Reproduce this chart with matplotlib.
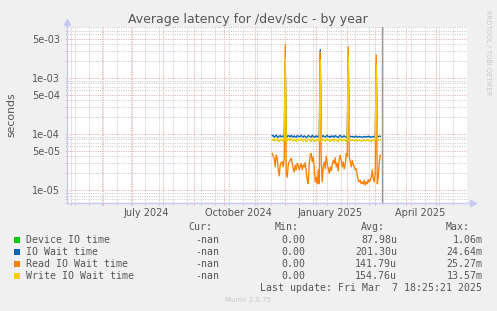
import pandas as pd
import matplotlib
matplotlib.use('Agg')
import matplotlib.pyplot as plt
from matplotlib.patches import Rectangle
from matplotlib.ticker import FixedLocator, NullFormatter, FuncFormatter
import matplotlib.transforms as mtransforms

W, H = 497, 311

# daily samples from this day on, values in microseconds
first_day = '2024-11-18'
now = pd.Timestamp('2025-03-07 18:25:21')

device_us = [79, 77, 81, 75, 78, 82, 76, 73, 80, 78, 79, 75, 77, 1000, 71, 76, 81, 79, 77, 82,
             78, 75, 80, 77, 74, 81, 79, 76, 78, 82, 77, 74, 80, 78, 72, 76, 81, 79, 77, 74,
             82, 78, 73, 76, 80, 75, 79, 74, 1060, 70, 77, 81, 77, 74, 79, 82, 76, 78, 73, 80,
             77, 79, 75, 81, 78, 76, 72, 79, 82, 77, 75, 78, 80, 76, 73, 77, 1000, 73, 79, 77,
             76, 78, 75, 77, 79, 74, 76, 78, 75, 77, 74, 76, 78, 75, 77, 76, 79, 75, 77, 74,
             76, 78, 75, 77, 900, 74, 77, 79, 78]
iowait_us = [93, 95, 88, 91, 96, 90, 87, 92, 94, 89, 91, 93, 88, 2000, 86, 90, 94, 92, 89, 95,
             91, 88, 93, 90, 87, 94, 92, 89, 91, 95, 90, 88, 93, 91, 86, 89, 94, 92, 90, 88,
             95, 91, 87, 90, 93, 89, 92, 88, 3200, 85, 91, 94, 90, 88, 92, 95, 89, 91, 87, 93,
             90, 92, 88, 94, 91, 89, 86, 92, 95, 90, 88, 91, 93, 89, 87, 90, 2400, 88, 92, 90,
             89, 91, 88, 90, 92, 87, 89, 91, 88, 90, 87, 89, 91, 88, 90, 89, 92, 88, 90, 87,
             89, 91, 88, 90, 1800, 87, 90, 92, 91]
read_us = [45, 40, 37, 26, 42, 37, 23, 18, 28, 31, 32, 26, 37, 3900, 20, 17, 28, 32, 34, 37,
           30, 24, 21, 28, 23, 30, 28, 23, 26, 30, 23, 28, 26, 31, 21, 15, 13, 30, 42, 45,
           32, 39, 26, 14, 17, 13, 23, 13, 2900, 30, 14, 26, 32, 24, 40, 30, 24, 20, 26, 22,
           28, 34, 30, 38, 26, 30, 22, 36, 42, 34, 26, 32, 24, 28, 45, 40, 3600, 39, 32, 26,
           34, 28, 26, 23, 24, 18.5, 15, 14, 15, 13, 14, 12.8, 15, 12.3, 14, 13, 15.5, 14, 15, 17,
           23, 16, 14, 20, 2600, 13, 17, 30, 42]
write_us = [80, 78, 82, 76, 79, 83, 77, 74, 81, 79, 80, 76, 78, 2300, 72, 77, 82, 80, 78, 83,
            79, 76, 81, 78, 75, 82, 80, 77, 79, 83, 78, 75, 81, 79, 73, 77, 82, 80, 78, 75,
            83, 79, 74, 77, 81, 76, 80, 75, 2100, 71, 78, 82, 78, 75, 80, 83, 77, 79, 74, 81,
            78, 80, 76, 82, 79, 77, 73, 80, 83, 78, 76, 79, 81, 77, 74, 78, 2500, 74, 80, 78,
            77, 79, 76, 78, 80, 75, 77, 79, 76, 78, 75, 77, 79, 76, 78, 77, 80, 76, 78, 75,
            77, 79, 76, 78, 1700, 75, 78, 80, 79]

names = ['Device IO time', 'IO Wait time', 'Read IO Wait time', 'Write IO Wait time']
colors = ['#00CC00', '#0066B3', '#FF8000', '#FFCC00']
cur = ['-nan', '-nan', '-nan', '-nan']
mins = ['0.00', '0.00', '0.00', '0.00']
avgs = ['87.98u', '201.30u', '141.79u', '154.76u']
maxs = ['1.06m', '24.64m', '25.27m', '13.57m']

month_labels = ['July 2024', 'October 2024', 'January 2025', 'April 2025']
month_label_days = ['2024-07-15', '2024-10-15', '2025-01-15', '2025-04-15']
y_major = [1e-5, 5e-5, 1e-4, 5e-4, 1e-3, 5e-3]

days = pd.date_range(first_day, periods=len(read_us), freq='D')

fig = plt.figure(figsize=(W / 100, H / 100), dpi=100, facecolor='#F0F0F0')
ax = fig.add_axes([67 / W, 1 - 203 / H, 400 / W, 176 / H], facecolor='white')

x0 = now - pd.Timedelta(days=315)
x1 = now + pd.Timedelta(days=85)
ax.set_xlim(x0, x1)
ax.set_yscale('log')
ax.set_ylim(5.9e-6, 8.1e-3)

# grid
grey = '#cdcdcd'
red = '#eeb0b0'
dots = (0, (1.2, 1.2))
ax.xaxis.set_major_locator(FixedLocator(matplotlib.dates.date2num(
    pd.date_range('2024-05-01', '2025-06-01', freq='MS'))))
ax.xaxis.set_minor_locator(FixedLocator(matplotlib.dates.date2num(
    pd.date_range('2024-05-05', '2025-06-01', freq='14D'))))
ax.xaxis.set_major_formatter(NullFormatter())
ax.xaxis.set_minor_formatter(NullFormatter())

minor_y = [m * 10.0 ** e for e in range(-6, -2) for m in (2, 3, 4, 6, 7, 8, 9)]
ax.yaxis.set_major_locator(FixedLocator(y_major))
ax.yaxis.set_minor_locator(FixedLocator(minor_y))
ax.yaxis.set_major_formatter(FuncFormatter(lambda v, p: f'{v:.0e}'))
ax.yaxis.set_minor_formatter(NullFormatter())

ax.grid(which='minor', color=grey, linestyle=dots, lw=0.7)
ax.grid(which='major', color=red, linestyle=dots, lw=0.7)
ax.set_axisbelow(True)
ax.tick_params(which='major', length=1.5, width=0.7, color=red, labelsize=7,
               labelcolor='#555555')
ax.tick_params(which='minor', length=1.5, width=0.7, color=grey)
ax.tick_params(axis='y', pad=3.6)

for s in ax.spines.values():
    s.set_visible(False)

# series (device time sits under the write line)
widths = [0.5, 0.95, 0.95, 0.95]
for vals, c, lw in zip([device_us, iowait_us, read_us, write_us], colors, widths):
    ax.plot(days, [v * 1e-6 for v in vals], color=c, lw=lw, zorder=3)

ax.axvline(now, color='#999999', lw=1.0, zorder=4)

# axis lines with arrows
axc = '#c8c8f4'
ax.plot([0, 0], [0, 1.02], transform=ax.transAxes, color=axc, lw=1, clip_on=False, zorder=5)
ax.plot([0, 1.012], [0, 0], transform=ax.transAxes, color=axc, lw=1, clip_on=False, zorder=5)
ax.plot([0], [1.03], marker='^', ms=4, color=axc, transform=ax.transAxes, clip_on=False)
ax.plot([1.016], [0], marker='>', ms=4, color=axc, transform=ax.transAxes, clip_on=False)

trans = mtransforms.blended_transform_factory(ax.transData, ax.transAxes)
for lab, d in zip(month_labels, month_label_days):
    ax.text(pd.Timestamp(d), -9.5 / 176, lab, transform=trans, ha='center', va='center',
            fontsize=7, color='#555555')

def px(x, y):
    return x / W, 1 - y / H

fig.text(*px(248, 19), 'Average latency for /dev/sdc - by year', ha='center', va='center',
         fontsize=9, color='#555555')
fig.text(*px(11, 114.5), 'seconds', rotation=90, ha='center', va='center',
         fontsize=7.8, color='#555555')
fig.text(*px(488, 53), 'RRDTOOL / TOBI OETIKER', rotation=270, ha='center', va='center',
         fontsize=4.8, color='#c8c8c8')

mono = dict(family='DejaVu Sans Mono', fontsize=7.1, color='#555555', va='center')
fig.text(*px(212.5, 227.5), 'Cur:', ha='right', **mono)
fig.text(*px(298.5, 227.5), 'Min:', ha='right', **mono)
fig.text(*px(384.5, 227.5), 'Avg:', ha='right', **mono)
fig.text(*px(470, 227.5), 'Max:', ha='right', **mono)
for i, name in enumerate(names):
    y = 239.7 + 12 * i
    fig.patches.append(Rectangle(px(14, y + 3), 6 / W, 6 / H, transform=fig.transFigure,
                                 facecolor=colors[i], edgecolor='none'))
    fig.text(*px(26, y), name, ha='left', **mono)
    fig.text(*px(219.5, y), cur[i], ha='right', **mono)
    fig.text(*px(305, y), mins[i], ha='right', **mono)
    fig.text(*px(397, y), avgs[i], ha='right', **mono)
    fig.text(*px(482.5, y), maxs[i], ha='right', **mono)
fig.text(*px(482.5, 287.8), 'Last update: Fri Mar  7 18:25:21 2025', ha='right', **mono)
fig.text(*px(248, 300.5), 'Munin 2.0.75', ha='center', va='center', fontsize=5,
         color='#c8c8c8')

fig.savefig('out.png', dpi=100, facecolor=fig.get_facecolor())
